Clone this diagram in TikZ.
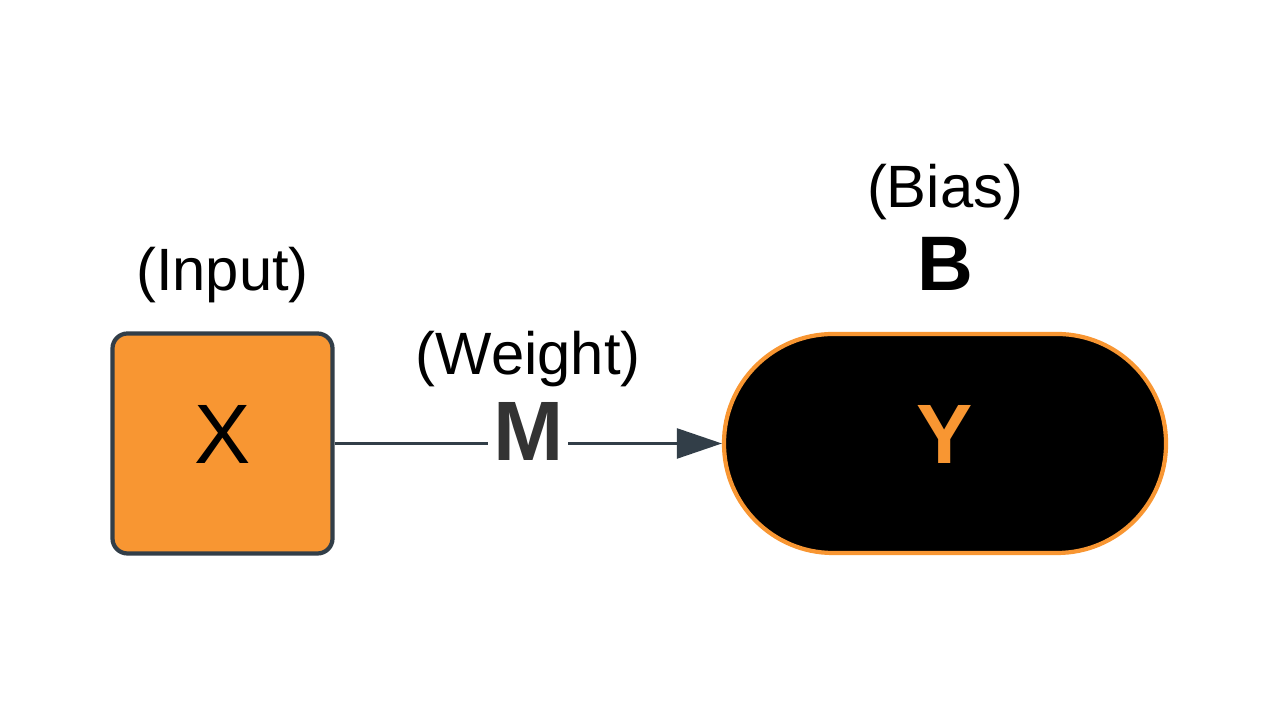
\documentclass[tikz,border=0pt]{standalone}
\usepackage{fontspec}
\setmainfont{Liberation Sans}
\usetikzlibrary{positioning,arrows.meta}
\definecolor{inputorange}{RGB}{248,150,50}
\definecolor{edgeslate}{RGB}{50,62,72}
\definecolor{weightgray}{RGB}{51,51,51}

\begin{document}
\begin{tikzpicture}[
    caption/.style={font=\fontsize{17}{20}\selectfont, inner sep=0pt},
    letter/.style={font=\fontsize{24}{29}\selectfont, inner sep=0pt}]
    \useasboundingbox (0,0) rectangle (12.8,7.2);

    % Input box
    \node[letter, draw=edgeslate, line width=1.2pt, fill=inputorange, rounded corners=0.15cm,
          minimum width=2.2cm, minimum height=2.2cm] (x) at (2.225,2.765) {\strut X};
    \node[caption, above=0.28cm of x] (input) {(Input)};

    % Output node with bias
    \node[letter, draw=inputorange, line width=1.2pt, fill=black, text=inputorange,
          rounded corners=1.09cm, minimum width=4.42cm, minimum height=2.19cm] (y) at (9.45,2.765) {\bfseries\strut Y};
    \node[inner sep=0pt, font=\fontsize{22}{26}\selectfont\bfseries, above=0.41cm of y] (b) {B};
    \node[caption, above=0.16cm of b] (bias) {(Bias)};

    % Weight connection
    \draw[edgeslate, line width=0.7pt, -{Triangle[length=4.5mm,width=3mm]}] (x) -- (y)
        node[letter, midway, fill=white, inner xsep=0.05cm, text=weightgray, yshift=0.03cm] (m) {\bfseries\strut M};
    \node[caption, above=0.01cm of m] (weight) {(Weight)};
\end{tikzpicture}
\end{document}
